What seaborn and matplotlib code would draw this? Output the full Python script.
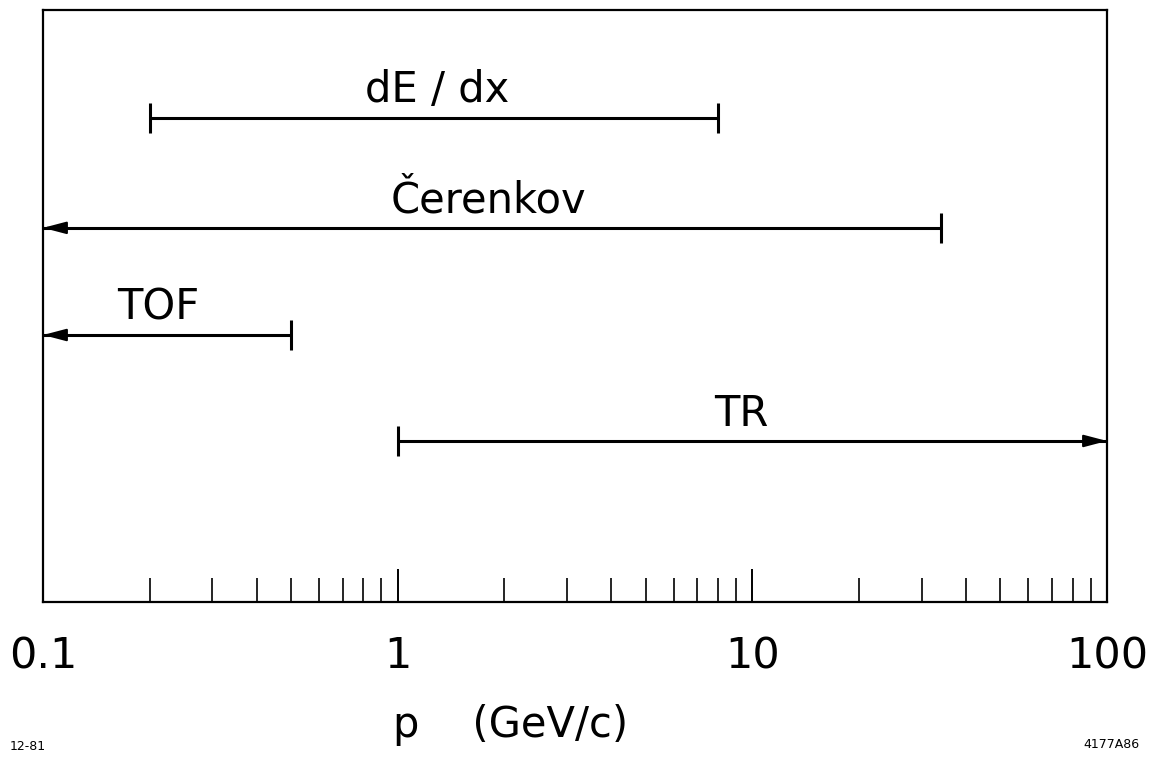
import numpy as np
import pandas as pd
import matplotlib
matplotlib.use("Agg")
import matplotlib.pyplot as plt
from matplotlib.ticker import FixedLocator, NullFormatter
import seaborn as sns

# Momentum coverage of particle-identification techniques (GeV/c)
methods = ["dE / dx", "Čerenkov", "TOF", "TR"]
p_low = [0.2, 0.1, 0.1, 1.0]
p_high = [8.0, 34.0, 0.5, 100.0]
open_low = [False, True, True, False]    # range continues below the axis
open_high = [False, False, False, True]  # range continues above the axis
lane = [0.818, 0.632, 0.451, 0.272]       # vertical lane of each technique
label_x = [1.29, 1.80, 0.211, 9.3]        # horizontal centre of each label

tick_values = [0.1, 1, 10, 100]
tick_labels = ["0.1", "1", "10", "100"]

sns.set_theme(style="white")
plt.rcParams["font.family"] = ["DejaVu Sans"]

fig = plt.figure(figsize=(11.49, 7.60), dpi=100)
ax = fig.add_axes([43 / 1149, 158 / 760, 1064 / 1149, 592 / 760])

rows = []
for m, lo, hi, y in zip(methods, p_low, p_high, lane):
    rows.append({"method": m, "p": lo, "y": y})
    rows.append({"method": m, "p": hi, "y": y})
df = pd.DataFrame(rows)

sns.lineplot(data=df, x="p", y="y", units="method", estimator=None,
             color="black", linewidth=2.2, sort=False, ax=ax, legend=False)

for m, lo, hi, y, ol, oh, lx in zip(methods, p_low, p_high, lane,
                                    open_low, open_high, label_x):
    # closed ends get a vertical cap, open ends an arrowhead
    for end, is_open, inward in ((lo, ol, hi), (hi, oh, lo)):
        if is_open:
            start = end * (inward / end) ** 0.02
            ax.annotate("", xy=(end, y), xytext=(start, y),
                        arrowprops=dict(arrowstyle="-|>,head_length=0.95,head_width=0.25",
                                        color="black", lw=1.5,
                                        mutation_scale=15,
                                        shrinkA=0, shrinkB=0))
        else:
            ax.plot([end], [y], marker="|", markersize=22, markeredgewidth=2.2,
                    color="black")
    ax.annotate(m, xy=(lx, y), xytext=(0, 11), textcoords="offset points",
                ha="center", va="baseline", fontsize=30, color="black")

ax.set_xscale("log")
ax.set_xlim(0.1, 100)
ax.set_ylim(0, 1)
ax.set_yticks([])
ax.set_xlabel("")
ax.set_ylabel("")

ax.xaxis.set_major_locator(FixedLocator(tick_values))
ax.set_xticklabels(tick_labels)
minor = [k * 10.0 ** e for e in (-1, 0, 1) for k in range(2, 10)]
ax.xaxis.set_minor_locator(FixedLocator(minor))
ax.xaxis.set_minor_formatter(NullFormatter())
ax.tick_params(axis="x", which="major", direction="in", length=24, width=1.4,
               color="black", pad=24, labelsize=31, labelcolor="black",
               bottom=True)
ax.tick_params(axis="x", which="minor", direction="in", length=17, width=1.2,
               color="black", bottom=True)

for s in ax.spines.values():
    s.set_visible(True)
    s.set_color("black")
    s.set_linewidth(1.6)

fig.text(393 / 1149, 1 - 725 / 760, "p    (GeV/c)", ha="left", va="center",
         fontsize=30, color="black")
fig.text(10 / 1149, 1 - 746 / 760, "12-81", ha="left", va="center",
         fontsize=9, color="black")
fig.text(1140 / 1149, 1 - 744 / 760, "4177A86", ha="right", va="center",
         fontsize=9, color="black")

fig.savefig("out.png", dpi=100, facecolor="white")
